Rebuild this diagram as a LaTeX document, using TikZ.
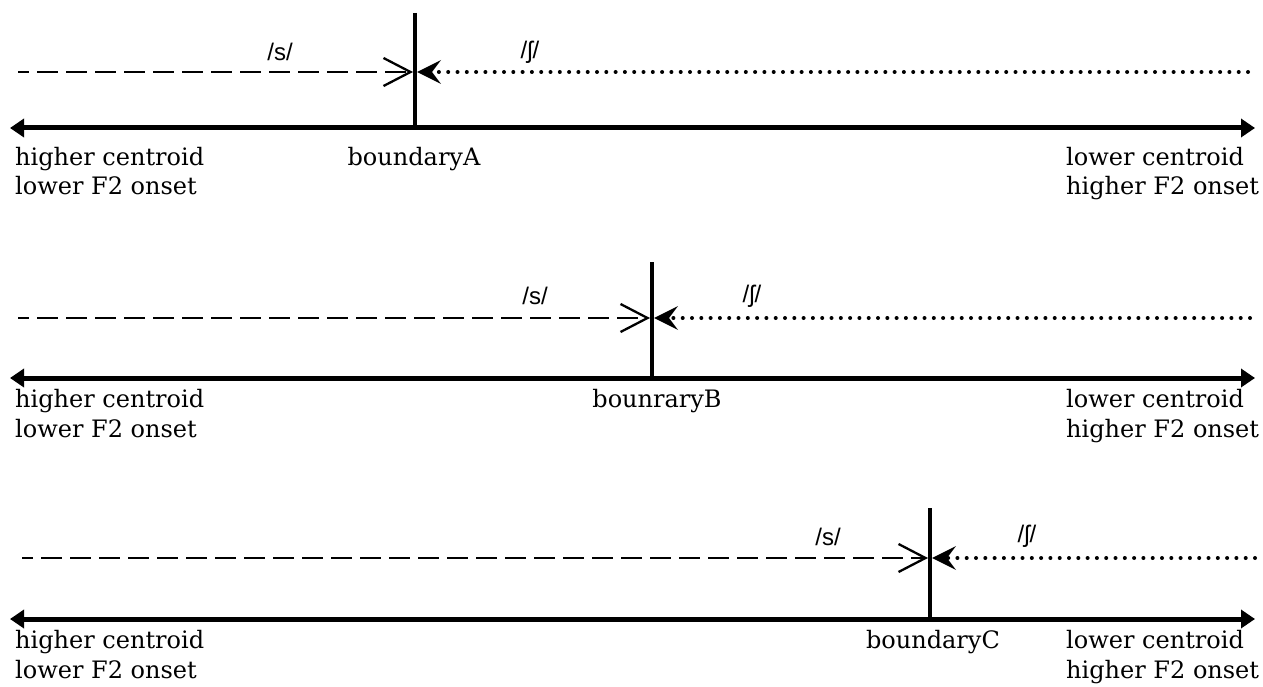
\documentclass[tikz,border=0pt]{standalone}
\usepackage{fontspec}
\setmainfont{DejaVu Serif}
\newfontfamily\ipafont{Liberation Sans}
\usetikzlibrary{arrows.meta}

\tikzset{
  axisline/.style={line width=5pt, {Triangle[length=14pt,width=18pt]}-{Triangle[length=14pt,width=18pt]}},
  boundline/.style={line width=3.5pt},
  sline/.style={line width=2.8pt, dash pattern=on 21pt off 8pt, dash phase=10pt, -{Straight Barb[length=27pt,width=28pt,line width=2.3pt]}},
  shline/.style={line width=4pt, line cap=round, dash pattern=on 0pt off 9.3pt, -{Stealth[length=24pt,width=24pt,inset=9pt,line width=0pt]}},
  lbl/.style={font=\fontsize{24}{28}\selectfont, inner sep=0pt},
  phon/.style={font=\ipafont\fontsize{24}{28}\selectfont, inner sep=0pt}
}

\begin{document}
\begin{tikzpicture}[x=1pt,y=-1pt]
\useasboundingbox (0,0) rectangle (1263,687);

% ---------- continuum A ----------
\coordinate (aL) at (10,128);
\coordinate (aR) at (1255,128);
\coordinate (aTop) at (415,13);
\coordinate (aBot) at (415,128);
\coordinate (aS) at (18,72);
\coordinate (aSh) at (1248,72);
\coordinate (aSend) at (413,72);
\coordinate (aShend) at (417,72);
\draw[axisline] (aL) -- (aR);
\draw[boundline] (aTop) -- (aBot);
\draw[sline] (aS) -- (aSend);
\draw[shline] (aSh) -- (aShend);
\node[phon] (aSlab) at (280,52) {/s/};
\node[phon] (aShlab) at (530,52) {/ʃ/};
\node[lbl, anchor=base west] (aHC) at (15,166) {higher centroid};
\node[lbl, anchor=base west] (aLF) at (15,195) {lower F2 onset};
\node[lbl, anchor=base] (aB) at (414,166) {boundaryA};
\node[lbl, anchor=base west] (aLC) at (1066,166) {lower centroid};
\node[lbl, anchor=base west] (aHF) at (1066,195) {higher F2 onset};

% ---------- continuum B ----------
\coordinate (bL) at (10,378);
\coordinate (bR) at (1255,378);
\coordinate (bTop) at (652,262);
\coordinate (bBot) at (652,378);
\coordinate (bS) at (18,318);
\coordinate (bSend) at (650,318);
\coordinate (bSh) at (1250,318);
\coordinate (bShend) at (654,318);
\draw[axisline] (bL) -- (bR);
\draw[boundline] (bTop) -- (bBot);
\draw[sline] (bS) -- (bSend);
\draw[shline] (bSh) -- (bShend);
\node[phon] (bSlab) at (535,296) {/s/};
\node[phon] (bShlab) at (752,296) {/ʃ/};
\node[lbl, anchor=base west] (bHC) at (15,407) {higher centroid};
\node[lbl, anchor=base west] (bLF) at (15,437) {lower F2 onset};
\node[lbl, anchor=base] (bB) at (657,407) {bounraryB};
\node[lbl, anchor=base west] (bLC) at (1066,407) {lower centroid};
\node[lbl, anchor=base west] (bHF) at (1066,437) {higher F2 onset};

% ---------- continuum C ----------
\coordinate (cL) at (10,619);
\coordinate (cR) at (1255,619);
\coordinate (cTop) at (930,508);
\coordinate (cBot) at (930,619);
\coordinate (cS) at (22,558);
\coordinate (cSend) at (928,558);
\coordinate (cSh) at (1255,558);
\coordinate (cShend) at (932,558);
\draw[axisline] (cL) -- (cR);
\draw[boundline] (cTop) -- (cBot);
\draw[sline] (cS) -- (cSend);
\draw[shline] (cSh) -- (cShend);
\node[phon] (cSlab) at (828,537) {/s/};
\node[phon] (cShlab) at (1027,536) {/ʃ/};
\node[lbl, anchor=base west] (cHC) at (15,648) {higher centroid};
\node[lbl, anchor=base west] (cLF) at (15,678) {lower F2 onset};
\node[lbl, anchor=base] (cB) at (933,648) {boundaryC};
\node[lbl, anchor=base west] (cLC) at (1066,648) {lower centroid};
\node[lbl, anchor=base west] (cHF) at (1066,678) {higher F2 onset};
\end{tikzpicture}
\end{document}
